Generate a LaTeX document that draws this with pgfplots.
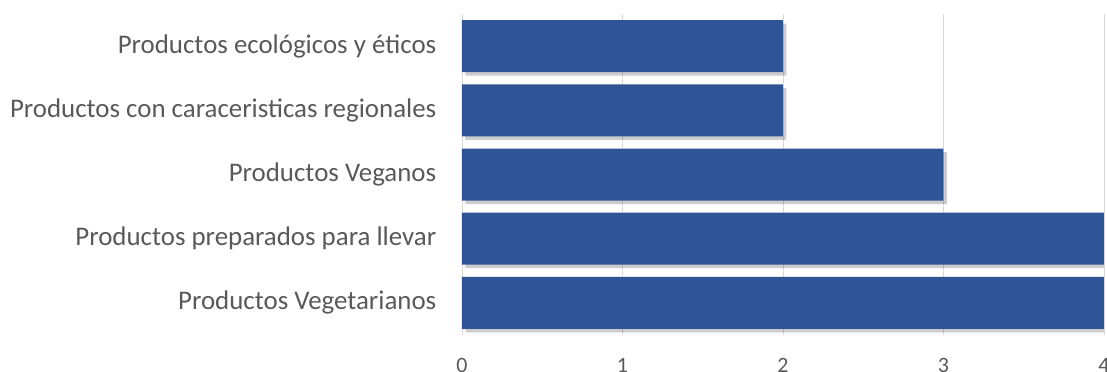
\documentclass[border=0pt]{standalone}
\usepackage{pgfplots}
\pgfplotsset{compat=1.18}
\usepackage{fontspec}
\setmainfont{Carlito}
\usetikzlibrary{shadows}
\definecolor{barblue}{HTML}{2F5597}
\definecolor{txtgray}{HTML}{595959}
\definecolor{gridgray}{HTML}{D9D9D9}
\begin{document}
\begin{tikzpicture}
\begin{axis}[
  at={(0,0)}, anchor=south west,
  scale only axis,
  width=642bp, height=321bp,
  xbar, bar width=0.81,
  xmin=0, xmax=4,
  ymin=-0.5, ymax=4.5,
  xtick={0,1,2,3,4},
  ytick={0,1,2,3,4},
  yticklabels={Productos Vegetarianos,Productos preparados para llevar,Productos Veganos,Productos con caraceristicas regionales,Productos ecológicos y éticos},
  xmajorgrids, major grid style={gridgray, line width=0.8bp},
  axis line style={draw=none},
  tick style={draw=none},
  tick label style={text=txtgray},
  yticklabel style={font=\fontsize{27}{32}\selectfont, xshift=-18bp},
  xticklabel style={font=\fontsize{22}{26}\selectfont, yshift=-20bp},
  /pgf/number format/assume math mode=true,
]
\addplot[fill=barblue, draw=none, drop shadow={shadow xshift=3.5bp, shadow yshift=-3.5bp, fill=black, opacity=0.2}] coordinates {(4,0) (4,1) (3,2) (2,3) (2,4)};
\end{axis}
\pgfresetboundingbox
\path[use as bounding box] (-462bp,-37bp) rectangle (645bp,335bp);
\end{tikzpicture}
\end{document}
